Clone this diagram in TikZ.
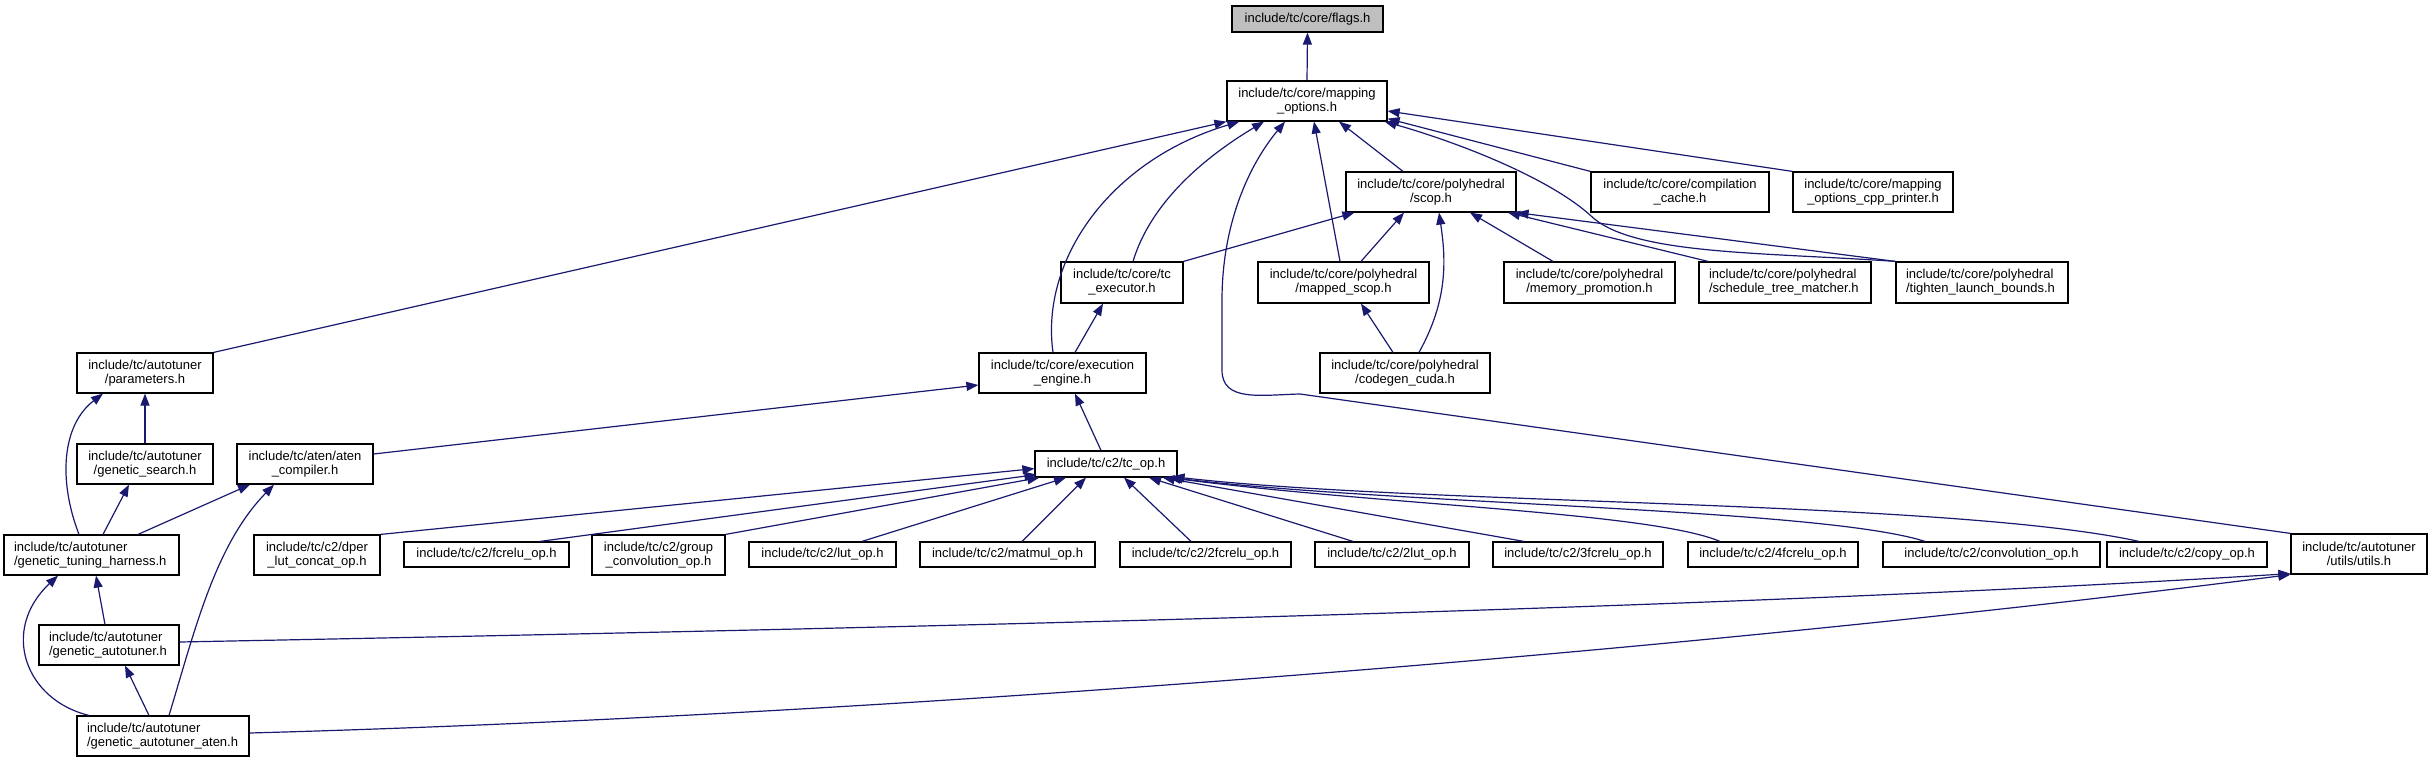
\documentclass[tikz,border=0pt]{standalone}
\usepackage{fontspec}
\setmainfont{Liberation Sans}
\usetikzlibrary{arrows.meta,calc}
\definecolor{edgeblue}{RGB}{25,25,112}
\definecolor{flagsgray}{RGB}{191,191,191}
\begin{document}
\begin{tikzpicture}[x=1pt,y=-1pt,
 box/.style={draw=black, line width=1.2pt, fill=white, inner sep=0pt, align=center, font=\fontsize{13}{14}\selectfont},
 lbox/.style={box, align=left},
 dep/.style={draw=edgeblue, line width=1.2pt, -{Triangle[length=12pt,width=9pt]}},
]
\useasboundingbox[fill=white] (0,0) rectangle (2432,763);
% row 0-1
\node[box, fill=flagsgray, minimum width=151pt, minimum height=26pt] (flags) at (1307.5,19) {include/tc/core/flags.h};
\node[box, minimum width=160pt, minimum height=40pt] (mapopt) at (1307,101) {include/tc/core/mapping\\\_options.h};
% row 2
\node[box, minimum width=170pt, minimum height=40pt] (scop) at (1431,192) {include/tc/core/polyhedral\\/scop.h};
\node[box, minimum width=178pt, minimum height=40pt] (ccache) at (1680,192) {include/tc/core/compilation\\\_cache.h};
\node[box, minimum width=160pt, minimum height=40pt] (printer) at (1873,192) {include/tc/core/mapping\\\_options\_cpp\_printer.h};
% row 3
\node[box, minimum width=122pt, minimum height=41pt] (executor) at (1122,282.5) {include/tc/core/tc\\\_executor.h};
\node[box, minimum width=171pt, minimum height=41pt] (mscop) at (1343.5,282.5) {include/tc/core/polyhedral\\/mapped\_scop.h};
\node[box, minimum width=171pt, minimum height=41pt] (mempro) at (1589.5,282.5) {include/tc/core/polyhedral\\/memory\_promotion.h};
\node[lbox, text width=152pt, minimum width=172pt, minimum height=41pt] (stm) at (1785,282.5) {include/tc/core/polyhedral\\/schedule\_tree\_matcher.h};
\node[lbox, text width=152pt, minimum width=172pt, minimum height=41pt] (tlb) at (1982,282.5) {include/tc/core/polyhedral\\/tighten\_launch\_bounds.h};
% row 4
\node[box, minimum width=136pt, minimum height=40pt] (params) at (145,373) {include/tc/autotuner\\/parameters.h};
\node[box, minimum width=167pt, minimum height=40pt] (exeng) at (1062.5,373) {include/tc/core/execution\\\_engine.h};
\node[box, minimum width=170pt, minimum height=40pt] (cgcuda) at (1405,373) {include/tc/core/polyhedral\\/codegen\_cuda.h};
% row 5
\node[box, minimum width=136pt, minimum height=40pt] (gsearch) at (145,464) {include/tc/autotuner\\/genetic\_search.h};
\node[box, minimum width=136pt, minimum height=40pt] (atenc) at (305,464) {include/tc/aten/aten\\\_compiler.h};
\node[box, minimum width=142pt, minimum height=26pt] (tcop) at (1106,464) {include/tc/c2/tc\_op.h};
% row 6
\node[lbox, text width=155pt, minimum width=175pt, minimum height=40pt] (gth) at (91.5,555) {include/tc/autotuner\\/genetic\_tuning\_harness.h};
\node[box, minimum width=126pt, minimum height=40pt] (dper) at (317,555) {include/tc/c2/dper\\\_lut\_concat\_op.h};
\node[box, minimum width=165pt, minimum height=25pt] (fcrelu) at (486.5,554.5) {include/tc/c2/fcrelu\_op.h};
\node[box, minimum width=133pt, minimum height=40pt] (group) at (658.5,555) {include/tc/c2/group\\\_convolution\_op.h};
\node[box, minimum width=147pt, minimum height=25pt] (lut) at (822.5,554.5) {include/tc/c2/lut\_op.h};
\node[box, minimum width=175pt, minimum height=25pt] (matmul) at (1007.5,554.5) {include/tc/c2/matmul\_op.h};
\node[box, minimum width=171pt, minimum height=25pt] (f2) at (1205.5,554.5) {include/tc/c2/2fcrelu\_op.h};
\node[box, minimum width=154pt, minimum height=25pt] (lut2) at (1392,554.5) {include/tc/c2/2lut\_op.h};
\node[box, minimum width=170pt, minimum height=25pt] (f3) at (1578,554.5) {include/tc/c2/3fcrelu\_op.h};
\node[box, minimum width=170pt, minimum height=25pt] (f4) at (1773,554.5) {include/tc/c2/4fcrelu\_op.h};
\node[box, minimum width=217pt, minimum height=25pt] (conv) at (1991.5,554.5) {include/tc/c2/convolution\_op.h};
\node[box, minimum width=160pt, minimum height=25pt] (copy) at (2187,554.5) {include/tc/c2/copy\_op.h};
\node[box, minimum width=136pt, minimum height=40pt] (utils) at (2359,554) {include/tc/autotuner\\/utils/utils.h};
% rows 7-8
\node[lbox, text width=120pt, minimum width=140pt, minimum height=40pt] (gat) at (109,645) {include/tc/autotuner\\/genetic\_autotuner.h};
\node[lbox, text width=152pt, minimum width=172pt, minimum height=40pt] (gata) at (163,736) {include/tc/autotuner\\/genetic\_autotuner\_aten.h};

% edges to flags / mapping options
\draw[dep] (mapopt.north) -- (flags.south);
\draw[dep] ($(scop.north)+(-28,0)$) -- ($(mapopt.south)+(32,0)$);
\draw[dep] (ccache.north west) -- ($(mapopt.south east)+(0,-3)$);
\draw[dep] (printer.north west) -- ($(mapopt.east)+(0,10)$);
\draw[dep] ($(executor.north)+(11,0)$) .. controls (1150,205) and (1200,160) .. ($(mapopt.south)+(-43,0)$);
\draw[dep] ($(mscop.north)+(-3.5,0)$) -- ($(mapopt.south)+(7,0)$);
\draw[dep] (tlb.north west) .. controls (1760,252) and (1630,255) .. (1590,215) .. controls (1545,175) and (1450,140) .. ($(mapopt.south east)+(-3,0)$);
\draw[dep] (params.north east) -- (mapopt.south west);
\draw[dep] ($(exeng.north)+(-9.5,0)$) .. controls (1040,260) and (1110,160) .. ($(mapopt.south west)+(13,0)$);
\draw[dep] (utils.north west) -- (1300,394) .. controls (1260,395) and (1222,402) .. (1222,370) -- (1222,300) .. controls (1222,230) and (1245,170) .. ($(mapopt.south)+(-22,0)$);
% edges to scop
\draw[dep] (executor.north east) -- ($(scop.south west)+(9,0)$);
\draw[dep] ($(mscop.north)+(17.5,0)$) -- ($(scop.south)+(-27,0)$);
\draw[dep] ($(cgcuda.north)+(14,0)$) .. controls (1448,300) and (1446,260) .. ($(scop.south)+(8,0)$);
\draw[dep] ($(mempro.north)+(-36.5,0)$) -- ($(scop.south)+(39,0)$);
\draw[dep] ($(stm.north)+(-77,0)$) -- ($(scop.south)+(77,0)$);
\draw[dep] (tlb.north west) -- (scop.south east);
% other upper edges
\draw[dep] ($(cgcuda.north)+(-12,0)$) -- ($(mscop.south)+(17.5,0)$);
\draw[dep] ($(exeng.north)+(12.5,0)$) -- ($(executor.south)+(-19,0)$);
\draw[dep] ($(tcop.north)+(-5,0)$) -- ($(exeng.south)+(12.5,0)$);
\draw[dep] ($(atenc.east)+(0,-10)$) -- ($(exeng.west)+(0,12)$);
% autotuner edges
\draw[dep] ($(gat.east)+(0,-3)$) .. controls (900,628) and (1700,610) .. ($(utils.south west)+(0,-1)$);
\draw[dep] ($(gata.east)+(0,-3)$) .. controls (900,715) and (1700,650) .. ($(utils.south west)+(0,0)$);
\draw[dep] (gsearch.north) -- (params.south);
\draw[dep] ($(gth.north)+(-12.5,0)$) .. controls (58,480) and (62,425) .. ($(params.south)+(-42,0)$);
\draw[dep] ($(gth.north)+(11.5,0)$) -- ($(gsearch.south)+(-16,0)$);
\draw[dep] ($(gth.north)+(46.5,0)$) -- ($(atenc.south)+(-55,0)$);
\draw[dep] ($(gat.north)+(-4,0)$) -- ($(gth.south)+(4.5,0)$);
\draw[dep] ($(gata.north)+(-74,0)$) .. controls (25,700) and (0,630) .. ($(gth.south)+(-33.5,0)$);
\draw[dep] ($(gata.north)+(-14,0)$) -- ($(gat.south)+(16,0)$);
\draw[dep] ($(gata.north)+(6,0)$) .. controls (195,630) and (215,545) .. ($(atenc.south)+(-31,0)$);
% c2 ops to tc_op
\draw[dep] (dper.north east) -- ($(tcop.south west)+(0,-9)$);
\draw[dep] ($(fcrelu.north)+(53.5,0)$) -- ($(tcop.south west)+(2,-3)$);
\draw[dep] (group.north east) -- ($(tcop.south west)+(5,0)$);
\draw[dep] ($(lut.north)+(39.5,0)$) -- ($(tcop.south)+(-40,0)$);
\draw[dep] ($(matmul.north)+(14.5,0)$) -- ($(tcop.south)+(-20,0)$);
\draw[dep] ($(f2.north)+(-14.5,0)$) -- ($(tcop.south)+(18,0)$);
\draw[dep] ($(lut2.north)+(-39,0)$) -- ($(tcop.south)+(43,0)$);
\draw[dep] ($(f3.north)+(-54,0)$) -- ($(tcop.south east)+(-15,0)$);
\draw[dep] ($(f4.north)+(-53,0)$) .. controls (1650,512) and (1380,505) .. ($(tcop.south east)+(-9,0)$);
\draw[dep] ($(conv.north)+(-66.5,0)$) .. controls (1820,508) and (1400,505) .. ($(tcop.south east)+(-7,0)$);
\draw[dep] ($(copy.north)+(-48,0)$) .. controls (1950,500) and (1420,505) .. ($(tcop.south east)+(-5,-1)$);
\end{tikzpicture}
\end{document}
